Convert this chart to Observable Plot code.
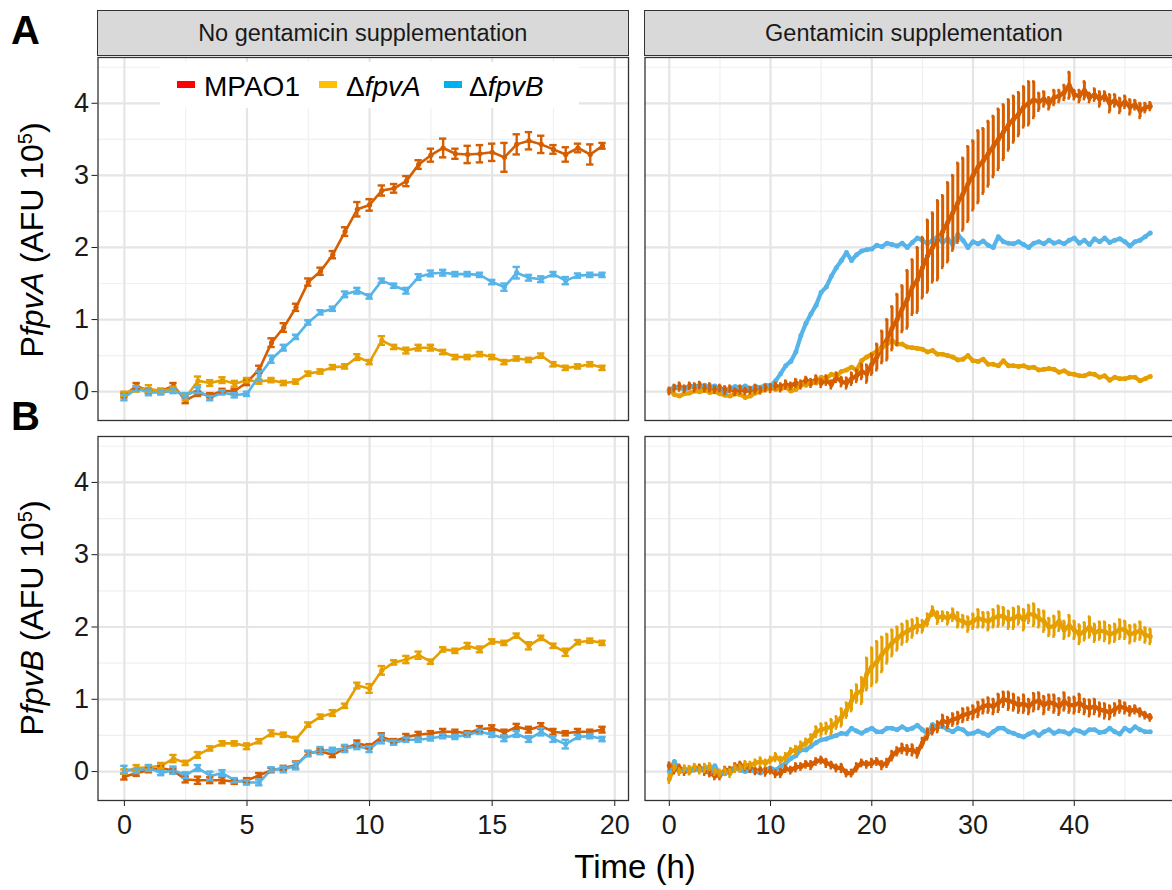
<!DOCTYPE html>
<html><head><meta charset="utf-8">
<script src="https://cdn.jsdelivr.net/npm/d3@7"></script>
<script src="https://cdn.jsdelivr.net/npm/@observablehq/plot@0.6"></script>
<style>
html,body{margin:0;padding:0;background:#fff;}
#fig{position:relative;width:1172px;height:890px;overflow:hidden;background:#fff;font-family:"Liberation Sans",Arial,Helvetica,sans-serif;color:#1a1a1a;}
#fig .abs{position:absolute;line-height:1;white-space:nowrap;}
.strip{position:absolute;background:#d9d9d9;border:1.3px solid #333;box-sizing:border-box;display:flex;align-items:center;justify-content:center;font-size:23.5px;color:#1a1a1a;}
.tag{font-weight:bold;font-size:40px;color:#000;}
.ytitle{font-size:32px;color:#000;transform:translate(-50%,-50%) rotate(-90deg);}
.key{position:absolute;width:18px;height:7px;}
.leg{font-size:28px;color:#000;}
svg{position:absolute;overflow:visible;}
</style></head>
<body>
<div id="fig"></div>
<script>
// ---------- data ----------
const tLeft = d3.range(0, 20, 0.5);   // sampling times (h), no gentamicin
const tRight = d3.range(0, 48, 0.5);  // sampling times (h), gentamicin
const yTicks = [0, 1, 2, 3, 4];
const yMinor = [0.5, 1.5, 2.5, 3.5, 4.5];
const xTicksLeft = [0, 5, 10, 15, 20];
const xMinorLeft = [2.5, 7.5, 12.5, 17.5];
const xTicksRight = [0, 10, 20, 30, 40];
const xMinorRight = [5, 15, 25, 35, 45];
const strains = ["MPAO1", "ΔfpvA", "ΔfpvB"];
const lineColors = ["#D55E00", "#E69F00", "#56B4E9"];
const keyColors = ["#FF0000", "#FFC000", "#00B0F0"];
const stripLabels = ["No gentamicin supplementation", "Gentamicin supplementation"];

// Panel A (PfpvA), no gentamicin
const A_noGen_MPAO1 = [-0.05,0.08,0.01,0.01,0.08,-0.12,-0.03,-0.05,0.01,0.01,0.13,0.31,0.68,0.89,1.17,1.52,1.67,1.90,2.22,2.53,2.59,2.79,2.82,2.92,3.15,3.28,3.38,3.30,3.29,3.30,3.32,3.25,3.43,3.48,3.43,3.36,3.29,3.38,3.29,3.41];
const A_noGen_MPAO1_err = [0.03,0.04,0.03,0.03,0.04,0.04,0.03,0.03,0.03,0.03,0.04,0.05,0.06,0.06,0.05,0.05,0.05,0.05,0.06,0.10,0.08,0.07,0.06,0.07,0.06,0.09,0.13,0.07,0.12,0.12,0.12,0.20,0.14,0.12,0.12,0.06,0.10,0.06,0.14,0.04];
const A_noGen_fpvA = [-0.03,0.04,0.04,0.01,0.04,-0.08,0.15,0.12,0.16,0.11,0.16,0.14,0.16,0.12,0.14,0.25,0.28,0.34,0.35,0.48,0.41,0.71,0.62,0.57,0.61,0.61,0.55,0.48,0.48,0.52,0.48,0.41,0.46,0.44,0.50,0.38,0.33,0.35,0.38,0.33];
const A_noGen_fpvA_err = [0.03,0.04,0.05,0.03,0.03,0.04,0.06,0.04,0.04,0.04,0.03,0.03,0.03,0.03,0.03,0.03,0.03,0.03,0.03,0.04,0.03,0.06,0.03,0.04,0.04,0.04,0.03,0.03,0.03,0.03,0.03,0.03,0.03,0.03,0.03,0.03,0.03,0.03,0.03,0.03];
const A_noGen_fpvB = [-0.08,0.04,-0.01,-0.01,0.01,-0.05,0.02,-0.09,-0.01,-0.05,-0.03,0.22,0.45,0.61,0.76,0.96,1.10,1.15,1.35,1.40,1.32,1.54,1.47,1.40,1.59,1.64,1.65,1.63,1.63,1.62,1.52,1.45,1.65,1.58,1.56,1.63,1.54,1.61,1.62,1.62];
const A_noGen_fpvB_err = [0.04,0.03,0.04,0.03,0.03,0.03,0.04,0.03,0.03,0.03,0.03,0.06,0.05,0.04,0.03,0.03,0.03,0.03,0.04,0.04,0.03,0.03,0.03,0.04,0.04,0.04,0.04,0.03,0.03,0.03,0.03,0.05,0.08,0.04,0.04,0.03,0.05,0.03,0.03,0.03];

// Panel B (PfpvB), no gentamicin
const B_noGen_MPAO1 = [-0.07,-0.02,0.02,0.05,0.01,-0.11,-0.12,-0.12,-0.12,-0.14,-0.12,-0.05,0.02,0.05,0.09,0.25,0.28,0.23,0.32,0.39,0.35,0.48,0.42,0.48,0.51,0.53,0.55,0.55,0.53,0.59,0.60,0.54,0.62,0.58,0.63,0.55,0.53,0.55,0.55,0.58];
const B_noGen_MPAO1_err = [0.04,0.04,0.03,0.03,0.03,0.04,0.05,0.04,0.04,0.03,0.03,0.03,0.03,0.03,0.05,0.03,0.03,0.03,0.04,0.04,0.03,0.05,0.03,0.04,0.04,0.03,0.04,0.03,0.03,0.04,0.04,0.04,0.04,0.04,0.04,0.04,0.03,0.04,0.03,0.04];
const B_noGen_fpvA = [0.00,0.05,0.06,0.08,0.18,0.12,0.23,0.32,0.39,0.39,0.35,0.42,0.53,0.51,0.45,0.65,0.76,0.81,0.91,1.19,1.15,1.40,1.51,1.55,1.61,1.52,1.69,1.67,1.74,1.69,1.80,1.78,1.88,1.74,1.85,1.74,1.65,1.79,1.81,1.78];
const B_noGen_fpvA_err = [0.03,0.04,0.03,0.04,0.05,0.03,0.04,0.03,0.03,0.03,0.04,0.03,0.04,0.03,0.03,0.03,0.03,0.04,0.03,0.04,0.06,0.06,0.03,0.05,0.05,0.03,0.03,0.03,0.04,0.04,0.03,0.03,0.03,0.05,0.03,0.03,0.05,0.03,0.03,0.03];
const B_noGen_fpvB = [0.03,0.01,0.05,-0.02,0.02,-0.05,0.05,-0.06,-0.02,-0.12,-0.15,-0.15,0.03,0.03,0.08,0.25,0.29,0.30,0.32,0.35,0.31,0.45,0.40,0.44,0.44,0.46,0.49,0.48,0.51,0.55,0.51,0.46,0.52,0.45,0.55,0.45,0.38,0.48,0.49,0.45];
const B_noGen_fpvB_err = [0.05,0.03,0.04,0.03,0.05,0.04,0.04,0.06,0.04,0.03,0.03,0.04,0.03,0.04,0.05,0.04,0.05,0.03,0.05,0.04,0.04,0.06,0.03,0.03,0.03,0.03,0.03,0.03,0.03,0.03,0.03,0.04,0.04,0.04,0.05,0.04,0.06,0.03,0.03,0.03];

// Panel A (PfpvA), gentamicin
const A_gen_MPAO1 = [
0.01,0.05,0.07,0.04,0.08,0.06,0.09,0.05,0.06,0.03,
0.05,0.02,0.04,0.00,0.03,0.01,0.02,0.04,0.02,0.05,
0.05,0.08,0.06,0.10,0.08,0.12,0.10,0.16,0.12,0.17,
0.12,0.16,0.10,0.20,0.14,0.12,0.18,0.22,0.28,0.25,
0.38,0.48,0.62,0.72,0.88,1.00,1.15,1.28,1.45,1.55,
1.72,1.88,2.00,2.10,2.22,2.35,2.48,2.62,2.74,2.88,
3.00,3.12,3.20,3.30,3.40,3.50,3.60,3.70,3.78,3.85,
3.95,4.00,4.05,4.02,4.06,4.00,4.08,4.10,4.15,4.25,
4.12,4.10,4.18,4.08,4.12,4.06,4.10,4.00,4.04,3.97,
4.02,3.95,3.98,3.90,3.94,3.96];
const A_gen_MPAO1_err = [
0.04,0.04,0.05,0.04,0.04,0.05,0.04,0.04,0.05,0.04,
0.04,0.05,0.04,0.04,0.05,0.04,0.04,0.05,0.04,0.04,
0.05,0.04,0.05,0.05,0.04,0.05,0.05,0.04,0.05,0.05,
0.05,0.06,0.05,0.06,0.06,0.07,0.08,0.08,0.10,0.12,
0.14,0.18,0.22,0.28,0.30,0.35,0.32,0.40,0.38,0.45,
0.42,0.50,0.48,0.55,0.50,0.55,0.52,0.55,0.50,0.52,
0.48,0.50,0.45,0.45,0.42,0.42,0.38,0.35,0.32,0.30,
0.28,0.30,0.25,0.12,0.10,0.08,0.10,0.08,0.10,0.18,
0.06,0.08,0.12,0.06,0.08,0.10,0.06,0.12,0.08,0.10,
0.08,0.10,0.06,0.10,0.06,0.05];
const A_gen_fpvA = [
0.02,-0.04,-0.06,-0.03,-0.02,0.01,0.00,0.02,-0.01,0.00,
-0.03,-0.05,-0.06,-0.03,-0.04,-0.08,-0.06,-0.02,0.01,0.03,
0.06,0.03,0.04,0.06,0.01,0.03,0.11,0.09,0.13,0.12,
0.20,0.18,0.24,0.22,0.28,0.30,0.34,0.30,0.43,0.48,
0.52,0.56,0.61,0.66,0.71,0.66,0.66,0.62,0.61,0.60,
0.59,0.55,0.57,0.52,0.52,0.50,0.48,0.44,0.45,0.50,
0.43,0.42,0.45,0.38,0.38,0.36,0.43,0.36,0.36,0.35,
0.36,0.33,0.34,0.30,0.31,0.32,0.31,0.27,0.29,0.25,
0.24,0.22,0.22,0.25,0.24,0.20,0.22,0.16,0.20,0.18,
0.18,0.20,0.20,0.15,0.18,0.21];
const A_gen_fpvB = [
0.02,0.07,0.05,0.03,0.06,0.08,0.07,0.09,0.06,0.08,
0.04,-0.02,0.04,0.07,0.05,0.08,0.04,0.07,0.06,0.09,
0.08,0.15,0.25,0.36,0.42,0.55,0.78,0.95,1.08,1.20,
1.38,1.45,1.60,1.72,1.82,1.93,1.82,1.90,1.95,1.97,
1.98,2.03,2.01,2.06,2.04,2.02,2.06,2.00,2.07,2.13,
2.10,2.05,2.10,2.15,2.07,2.12,2.04,2.18,2.10,2.00,
2.08,2.05,2.09,2.03,2.00,2.15,2.08,2.06,2.05,2.08,
2.04,2.00,2.06,2.08,2.05,2.10,2.06,2.08,2.05,2.10,
2.13,2.06,2.10,2.04,2.12,2.08,2.13,2.07,2.10,2.12,
2.08,2.02,2.08,2.10,2.15,2.20];

// Panel B (PfpvB), gentamicin
const B_gen_MPAO1 = [
0.08,0.03,0.05,0.00,0.02,0.05,0.05,0.01,-0.02,-0.06,
-0.05,0.02,0.02,0.06,0.09,0.06,0.05,0.01,0.02,0.00,
0.02,-0.03,-0.02,0.04,0.02,0.06,0.07,0.10,0.09,0.14,
0.16,0.12,0.09,0.05,0.05,-0.02,-0.02,0.06,0.12,0.10,
0.12,0.14,0.09,0.12,0.22,0.28,0.32,0.30,0.30,0.26,
0.40,0.52,0.58,0.62,0.70,0.68,0.72,0.74,0.78,0.80,
0.82,0.86,0.90,0.92,0.90,0.95,1.00,0.98,0.96,0.92,
0.94,0.90,0.96,0.98,0.92,0.96,0.94,0.90,0.97,0.92,
0.92,0.95,0.90,0.88,0.90,0.86,0.84,0.82,0.86,0.90,
0.88,0.84,0.86,0.82,0.78,0.75];
const B_gen_MPAO1_err = [
0.04,0.05,0.04,0.04,0.05,0.04,0.04,0.05,0.04,0.04,
0.05,0.04,0.04,0.05,0.04,0.04,0.05,0.04,0.04,0.05,
0.04,0.04,0.05,0.04,0.04,0.05,0.04,0.04,0.05,0.04,
0.04,0.05,0.04,0.04,0.05,0.04,0.04,0.05,0.04,0.04,
0.05,0.04,0.05,0.05,0.06,0.05,0.06,0.06,0.07,0.06,
0.06,0.07,0.06,0.07,0.08,0.07,0.08,0.08,0.09,0.08,
0.09,0.10,0.09,0.10,0.10,0.12,0.10,0.12,0.11,0.10,
0.12,0.10,0.12,0.11,0.12,0.10,0.12,0.11,0.12,0.10,
0.11,0.12,0.10,0.11,0.10,0.09,0.10,0.09,0.08,0.08,
0.07,0.06,0.05,0.05,0.04,0.04];
const B_gen_fpvA = [
-0.10,0.06,0.00,0.04,0.02,0.06,0.02,0.05,0.07,0.00,
-0.02,0.00,-0.02,0.04,0.05,0.09,0.09,0.12,0.14,0.12,
0.16,0.20,0.16,0.20,0.28,0.30,0.35,0.40,0.45,0.55,
0.58,0.60,0.62,0.68,0.75,0.85,0.98,1.08,1.12,1.35,
1.45,1.52,1.62,1.70,1.78,1.84,1.90,1.94,1.98,2.02,
2.01,2.10,2.22,2.13,2.15,2.12,2.17,2.10,2.08,2.04,
2.08,2.12,2.10,2.08,2.12,2.15,2.15,2.10,2.12,2.16,
2.10,2.18,2.17,2.12,2.08,2.00,2.01,2.08,1.96,2.02,
1.96,1.90,1.94,2.00,1.92,1.95,1.94,1.90,1.92,1.97,
1.96,1.90,1.92,1.95,1.89,1.87];
const B_gen_fpvA_err = [
0.05,0.04,0.04,0.04,0.05,0.04,0.04,0.05,0.04,0.04,
0.04,0.04,0.05,0.04,0.04,0.05,0.04,0.04,0.05,0.04,
0.04,0.05,0.04,0.05,0.04,0.05,0.06,0.05,0.06,0.07,
0.08,0.07,0.10,0.08,0.12,0.10,0.14,0.12,0.18,0.22,
0.26,0.28,0.24,0.20,0.18,0.16,0.14,0.14,0.12,0.10,
0.08,0.08,0.06,0.08,0.06,0.08,0.08,0.10,0.08,0.10,
0.10,0.12,0.10,0.12,0.12,0.14,0.12,0.12,0.14,0.12,
0.14,0.12,0.15,0.12,0.14,0.12,0.14,0.13,0.12,0.14,
0.12,0.13,0.12,0.14,0.12,0.12,0.13,0.12,0.12,0.13,
0.12,0.12,0.11,0.12,0.10,0.10];
const B_gen_fpvB = [
0.00,0.14,0.00,0.02,0.00,0.03,0.02,0.05,-0.02,0.08,
-0.04,-0.03,0.02,0.05,0.02,0.00,0.02,0.00,-0.02,0.03,
0.05,0.02,0.07,0.12,0.18,0.22,0.30,0.30,0.35,0.40,
0.44,0.45,0.48,0.50,0.53,0.52,0.60,0.56,0.53,0.57,
0.60,0.55,0.55,0.60,0.60,0.58,0.62,0.58,0.60,0.64,
0.58,0.52,0.65,0.62,0.62,0.58,0.55,0.60,0.58,0.52,
0.53,0.56,0.53,0.50,0.55,0.60,0.60,0.55,0.53,0.50,
0.48,0.52,0.55,0.50,0.55,0.58,0.53,0.56,0.55,0.52,
0.58,0.56,0.53,0.58,0.58,0.54,0.55,0.60,0.55,0.52,
0.60,0.56,0.62,0.58,0.55,0.55];

// ---------- drawing ----------
const FONT = '"Liberation Sans", Arial, Helvetica, sans-serif';
const Y_DOMAIN = [-0.40, 4.635];
const fig = document.getElementById("fig");

function rowsOf(t, v, e) {
  return t.map((ti, i) => ({t: ti, v: v[i], lo: e ? v[i] - e[i] : null, hi: e ? v[i] + e[i] : null}));
}

function panel(o) {
  const marks = [
    Plot.ruleY(yMinor, {stroke: "#f0f0f0", strokeWidth: 1.2}),
    Plot.ruleX(o.xMinor, {stroke: "#f0f0f0", strokeWidth: 1.2}),
    Plot.ruleY(yTicks, {stroke: "#e5e5e5", strokeWidth: 2.2}),
    Plot.ruleX(o.xMajor, {stroke: "#e5e5e5", strokeWidth: 2.2})
  ];
  const rows = o.series.map(s => rowsOf(o.t, s.v, s.e));
  rows.forEach((r, k) => marks.push(Plot.line(r, {x: "t", y: "v", stroke: lineColors[k], strokeWidth: o.lineW, strokeLinejoin: "round"})));
  rows.forEach((r, k) => marks.push(Plot.dot(r, {x: "t", y: "v", r: o.dotR, fill: lineColors[k], stroke: "none"})));
  rows.forEach((r, k) => {
    if (!o.series[k].e) return;
    marks.push(Plot.ruleX(r, {x: "t", y1: "lo", y2: "hi", stroke: lineColors[k], strokeWidth: o.barW}));
    marks.push(Plot.ruleY(r, {y: "hi", x1: d => d.t - o.capW, x2: d => d.t + o.capW, stroke: lineColors[k], strokeWidth: o.barW}));
    marks.push(Plot.ruleY(r, {y: "lo", x1: d => d.t - o.capW, x2: d => d.t + o.capW, stroke: lineColors[k], strokeWidth: o.barW}));
  });
  marks.push(Plot.frame({stroke: "#333", strokeWidth: 1.3}));
  const svg = Plot.plot({
    width: o.width, height: o.height,
    marginLeft: o.ml, marginRight: o.mr, marginTop: o.mt, marginBottom: o.mb,
    style: {fontFamily: FONT, fontSize: "27px", color: "#1a1a1a", background: "transparent", overflow: "visible"},
    x: {domain: o.xDomain, ticks: o.xMajor, tickSize: 6, tickPadding: 8, axis: o.showX ? "bottom" : null, label: null, tickFormat: d => String(d)},
    y: {domain: Y_DOMAIN, ticks: yTicks, tickSize: 6, tickPadding: 3, axis: o.showY ? "left" : null, label: null, tickFormat: d => String(d)},
    marks
  });
  svg.style.left = o.left + "px";
  svg.style.top = o.top + "px";
  fig.appendChild(svg);
}

const L = {t: tLeft, xDomain: [-1.077, 20.56], xMajor: xTicksLeft, xMinor: xMinorLeft, lineW: 2.6, dotR: 2.6, barW: 2.4, capW: 0.15, left: 0, width: 632, ml: 97.5, mr: 4};
const R = {t: tRight, xDomain: [-2.40, 49.85], xMajor: xTicksRight, xMinor: xMinorRight, lineW: 4.2, dotR: 2.5, barW: 3.0, capW: 0.12, left: 600, width: 580, ml: 44.5, mr: 6.5};

panel({...L, top: 50, height: 375, mt: 7, mb: 5, showX: false, showY: true,
  series: [{v: A_noGen_MPAO1, e: A_noGen_MPAO1_err}, {v: A_noGen_fpvA, e: A_noGen_fpvA_err}, {v: A_noGen_fpvB, e: A_noGen_fpvB_err}]});
panel({...R, top: 50, height: 375, mt: 7, mb: 5, showX: false, showY: false,
  series: [{v: A_gen_MPAO1, e: A_gen_MPAO1_err}, {v: A_gen_fpvA}, {v: A_gen_fpvB}]});
panel({...L, top: 429, height: 420, mt: 7, mb: 49, showX: true, showY: true,
  series: [{v: B_noGen_MPAO1, e: B_noGen_MPAO1_err}, {v: B_noGen_fpvA, e: B_noGen_fpvA_err}, {v: B_noGen_fpvB, e: B_noGen_fpvB_err}]});
panel({...R, top: 429, height: 420, mt: 7, mb: 49, showX: true, showY: false,
  series: [{v: B_gen_MPAO1, e: B_gen_MPAO1_err}, {v: B_gen_fpvA, e: B_gen_fpvA_err}, {v: B_gen_fpvB}]});

// ---------- text / strips / legend ----------
function addDiv(cls, style, html) {
  const d = document.createElement("div");
  d.className = cls;
  Object.assign(d.style, style);
  d.innerHTML = html;
  fig.appendChild(d);
  return d;
}
addDiv("strip", {left: "97px", top: "10px", width: "531.5px", height: "46px"}, stripLabels[0]);
addDiv("strip", {left: "644px", top: "10px", width: "540px", height: "46px"}, stripLabels[1]);
addDiv("abs tag", {left: "11px", top: "10px"}, "A");
addDiv("abs tag", {left: "11px", top: "396px"}, "B");
addDiv("abs ytitle", {left: "31px", top: "240px"}, "P<i>fpvA</i> (AFU 10<sup style='font-size:20px;vertical-align:0.55em'>5</sup>)");
addDiv("abs ytitle", {left: "31px", top: "618px"}, "P<i>fpvB</i> (AFU 10<sup style='font-size:20px;vertical-align:0.55em'>5</sup>)");
addDiv("abs", {left: "635px", top: "850px", fontSize: "33px", color: "#000", transform: "translateX(-50%)"}, "Time (h)");

// legend (inside top-left panel)
addDiv("abs", {left: "160px", top: "62px", width: "419px", height: "46px", background: "#fff"}, "");
const legendText = ["MPAO1", "&Delta;<i>fpvA</i>", "&Delta;<i>fpvB</i>"];
const keyX = [177, 319, 444];
const textX = [204, 346, 469];
strains.forEach((s, k) => {
  addDiv("key", {left: keyX[k] + "px", top: "81px", background: keyColors[k]}, "");
  addDiv("abs leg", {left: textX[k] + "px", top: "72.5px"}, legendText[k]);
});
</script>
</body></html>
